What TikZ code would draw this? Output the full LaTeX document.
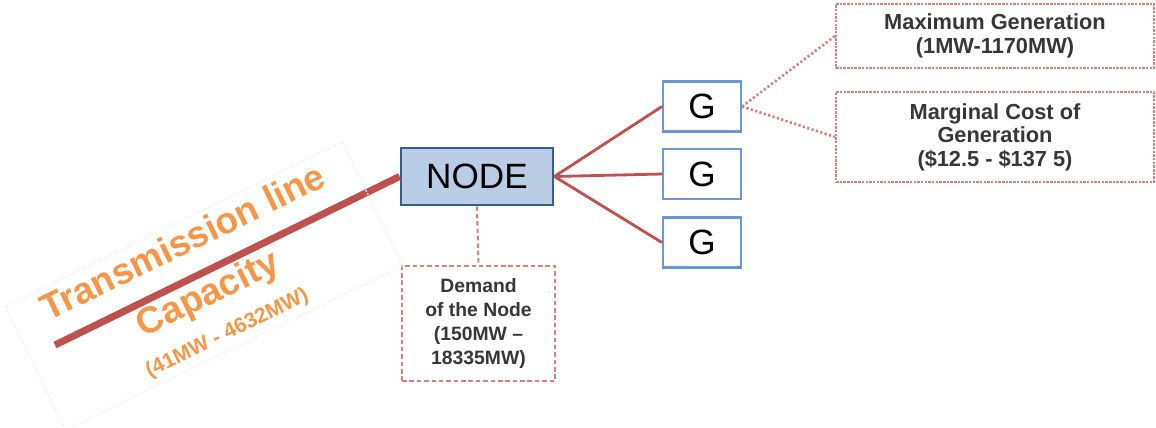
\documentclass[tikz,border=0pt]{standalone}
\usepackage{fontspec}
\setmainfont{Liberation Sans}
\usetikzlibrary{positioning}

\definecolor{linered}{RGB}{192,80,77}
\definecolor{lightred}{RGB}{214,130,128}
\definecolor{nodefill}{RGB}{185,205,229}
\definecolor{nodeblue}{RGB}{56,93,138}
\definecolor{genblue}{RGB}{104,152,218}
\definecolor{tlorange}{RGB}{247,150,70}
\definecolor{infogray}{RGB}{55,55,55}

\begin{document}
\begin{tikzpicture}[x=0.02cm,y=-0.02cm]
    % one bus of the grid model
    % - generators hanging off the bus
    % - demand and line capacity as data
    \tikzset{bus/.style = {shape=rectangle,draw=nodeblue,fill=nodefill,line width=1.6pt,
        minimum width=3.04cm,minimum height=1.14cm,font=\fontsize{20}{24}\selectfont}}
    \tikzset{gen/.style = {shape=rectangle,draw=genblue,line width=1.2pt,
        minimum width=1.56cm,minimum height=1cm,font=\fontsize{20}{24}\selectfont}}
    \tikzset{info/.style = {shape=rectangle,draw=lightred,line width=1.1pt,text=infogray,
        align=center,font=\bfseries\fontsize{11}{13.6}\selectfont}}
    \tikzset{geninfo/.style = {info,dash pattern=on 1.4pt off 0.7pt,
        font=\bfseries\fontsize{12.4}{13.4}\selectfont}}
    \tikzset{wire/.style = {draw=linered,line width=1.6pt}}
    \tikzset{tieline/.style = {draw=lightred,line width=1.5pt,dash pattern=on 1.3pt off 1.3pt}}

    \useasboundingbox (0,0) rectangle (1156,427);

    % bus
    \node[bus] (bus) at (477,176.5) {NODE};

    % generators
    \node[gen] (g1) at (702,106.5) {G};
    \node[gen] (g2) at (702,174)   {G};
    \node[gen] (g3) at (702,242.5) {G};
    \draw[wire] (bus.east) -- (g1.west);
    \draw[wire] (bus.east) -- (g2.west);
    \draw[wire] (bus.east) -- (g3.west);

    % generator data
    \node[geninfo,minimum width=6.36cm,minimum height=1.28cm] (maxgen) at (995,36)
        {Maximum Generation\\(1MW-1170MW)};
    \node[geninfo,minimum width=6.36cm,minimum height=1.8cm] (cost) at (995,137)
        {Marginal Cost of\\Generation\\(\$12.5 - \$137 5)};
    \draw[tieline] (g1.east) -- (maxgen.west);
    \draw[tieline] (g1.east) -- (cost.west);

    % demand
    \node[info,minimum width=3.06cm,minimum height=2.3cm,
          dash pattern=on 2.6pt off 1.6pt] (demand) at (478.5,323.5)
        {Demand\\of the Node\\(150MW –\\18335MW)};
    \draw[draw=lightred,line width=1.2pt,dash pattern=on 2.6pt off 1.6pt] (bus.south) -- (demand.north);

    % transmission line
    \coordinate (far) at (55,345);
    \draw[linered,line width=4pt] (far) -- (bus.west);
    \node[rotate=26,draw=black!6,dash pattern=on 1pt off 1pt,line width=0.8pt,
          minimum width=7.5cm,minimum height=2.7cm,align=center,text=tlorange,
          font=\bfseries\fontsize{21}{26}\selectfont] (tlabel) at (204,286)
        {Transmission line\\[6pt]Capacity\\[-4pt]{\fontsize{12}{14}\selectfont (41MW - 4632MW)}};
\end{tikzpicture}
\end{document}
